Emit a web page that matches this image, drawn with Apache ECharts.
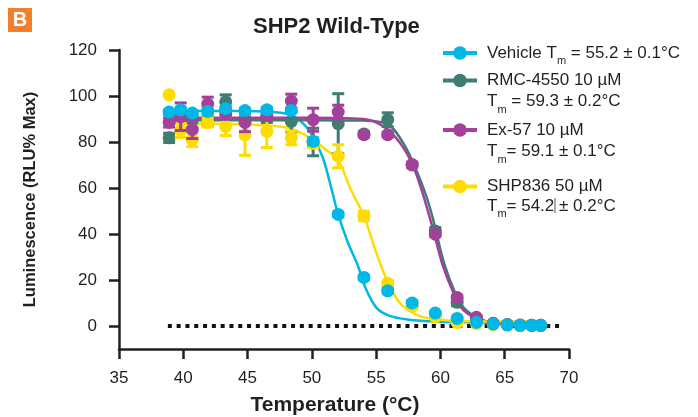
<!DOCTYPE html>
<html>
<head>
<meta charset="utf-8">
<script src="https://cdn.jsdelivr.net/npm/echarts@6/dist/echarts.min.js"></script>
<style>
html,body{margin:0;padding:0;background:#fff;}
#chart{width:698px;height:417px;}
</style>
</head>
<body>
<div id="chart"></div>
<script>
// ---- data ----
var temps = [38.9, 39.8, 40.7, 41.9, 43.3, 44.8, 46.5, 48.4, 50.1, 52.05, 54.05, 55.9, 57.8, 59.6, 61.3, 62.8, 64.1, 65.2, 66.2, 67.1, 67.8];

var vehicleVals = [93, 94, 92.6, 93.3, 94.5, 93.7, 94, 93.7, 80.3, 48.5, 21.1, 15.3, 10, 5.6, 3.3, 1.6, 0.9, 0.5, 0.3, 0.3, 0.3];
var vehicleErr  = [1, 1, 1, 1, 1, 1, 1, 1, 1.5, 1, 1, 1, 1, 0.5, 0.5, 0, 0, 0, 0, 0, 0];

var rmcVals = [81.8, 91, 90.4, 89, 97.5, 90, 90.5, 89, 80, 88, 83.5, 89.7, 70, 41.3, 10.3, 3, 1, 0.5, 0.3, 0.3, 0.3];
var rmcErr  = [2, 2, 2, 2, 3, 2, 2, 4.5, 6, 13, 1, 3, 1, 1.5, 1.5, 0.5, 0, 0, 0, 0, 0];

var ex57Vals = [88.5, 91, 85.5, 96.5, 92, 88.5, 91.5, 97.8, 89.7, 93, 83.2, 83.2, 70.2, 39.9, 12.4, 3.8, 1.2, 0.6, 0.4, 0.3, 0.3];
var ex57Err  = [2, 6, 4, 3, 2, 4, 2, 3, 5, 3, 1, 1, 1, 1, 1, 0.5, 0, 0, 0, 0, 0];

var shp836Vals = [100.5, 85, 81, 88.5, 86.8, 83.2, 84.6, 81.8, 79.5, 73.8, 47.8, 18.6, 8.5, 4, 1.5, 1, 0.6, 0.4, 0.3, 0.3, 0.3];
var shp836Err  = [0, 3, 3, 2, 4, 9, 7, 3, 2, 5, 2, 1, 1, 0.5, 0.5, 0, 0, 0, 0, 0, 0];

// fitted curves
var vehicleCurveT = [38.9, 44, 47, 48.5, 49.5, 50.2, 50.9, 51.6, 52.05, 52.8, 53.6, 54.1, 55, 56, 57.6, 59.4, 62, 65, 67.8];
var vehicleCurveV = [93.5, 93.5, 93, 91.5, 87, 81, 72.4, 58, 48.5, 36.3, 26, 17.5, 8.1, 4.5, 2.7, 2.0, 1.6, 1.5, 1.5];

var shp836CurveT = [38.9, 44, 47, 48.3, 49.3, 50.2, 50.9, 52.05, 52.9, 53.5, 54.05, 55, 55.8, 56.8, 58.1, 59.4, 61.3, 64, 67.8];
var shp836CurveV = [88, 87.8, 87, 86, 83.5, 80.5, 77.5, 72, 61, 54, 48, 32, 20.5, 10.3, 5, 3, 2.2, 2, 2];

var ex57CurveT = [38.9, 50, 54, 55.5, 56.8, 57.8, 58.6, 59.2, 59.5, 60.2, 61, 61.7, 62.8, 64.1, 66, 67.8];
var ex57CurveV = [90.5, 90.5, 90, 87, 80, 70.5, 58, 46.5, 40.5, 26, 14.6, 7.4, 3.2, 1, 0.6, 0.5];

var rmcCurveT = [38.9, 50, 54, 55.8, 57.1, 58.1, 58.9, 59.4, 59.65, 60.3, 61.1, 61.8, 62.9, 64.2, 66, 67.8];
var rmcCurveV = [89.5, 89.5, 89.3, 88, 79.6, 68, 56.5, 47, 41.3, 27, 15, 8, 3.5, 1.2, 0.6, 0.5];

var baselineT = [38.8, 69.4];
var baselineV = [0, 0];

var xTicks = [35, 40, 45, 50, 55, 60, 65, 70];
var yTicks = [0, 20, 40, 60, 80, 100, 120];

var seriesNames = ['Vehicle', 'RMC-4550 10 \u00b5M', 'Ex-57 10 \u00b5M', 'SHP836 50 \u00b5M'];
var legendLine1 = ['Vehicle T{sub|m} = 55.2 \u00b1 0.1\u00b0C', 'RMC-4550 10 \u00b5M', 'Ex-57 10 \u00b5M', 'SHP836 50 \u00b5M'];
var legendLine2 = ['', 'T{sub|m} = 59.3 \u00b1 0.2\u00b0C', 'T{sub|m}= 59.1 \u00b1 0.1\u00b0C', 'T{sub|m}= 54.2 \u00b1 0.2\u00b0C'];

// ---- styling ----
var FONT = '"Liberation Sans", Arial, Helvetica, sans-serif';
var TXT = '#231f20';
var colors = ['#00B8E6', '#3F7C72', '#A3419A', '#FFDC00'];

function zip(a, b) { return a.map(function (v, i) { return [v, b[i]]; }); }
function zip3(a, b, c) { return a.map(function (v, i) { return [v, b[i], c[i]]; }); }

function errRender(params, api) {
  var x = api.value(0), y = api.value(1), e = api.value(2);
  if (!e) return null;
  var top = api.coord([x, y + e]), bot = api.coord([x, y - e]);
  var cw = 6;
  var style = { stroke: api.visual('color'), lineWidth: 3 };
  return {
    type: 'group',
    children: [
      { type: 'line', shape: { x1: top[0], y1: top[1], x2: bot[0], y2: bot[1] }, style: style },
      { type: 'line', shape: { x1: top[0] - cw, y1: top[1], x2: top[0] + cw, y2: top[1] }, style: style },
      { type: 'line', shape: { x1: bot[0] - cw, y1: bot[1], x2: bot[0] + cw, y2: bot[1] }, style: style }
    ]
  };
}

var curves = [
  zip(vehicleCurveT, vehicleCurveV),
  zip(rmcCurveT, rmcCurveV),
  zip(ex57CurveT, ex57CurveV),
  zip(shp836CurveT, shp836CurveV)
];
var points = [
  zip3(temps, vehicleVals, vehicleErr),
  zip3(temps, rmcVals, rmcErr),
  zip3(temps, ex57Vals, ex57Err),
  zip3(temps, shp836Vals, shp836Err)
];
// drawing order bottom->top: RMC, SHP836, Ex-57, Vehicle
var zOrder = [8, 2, 6, 4];

var series = [];
[0, 1, 2, 3].forEach(function (i) {
  series.push({
    name: seriesNames[i], type: 'line', data: curves[i], smooth: 0.35,
    symbol: 'circle', showSymbol: false, symbolSize: 13,
    lineStyle: { color: colors[i], width: 2.5 }, itemStyle: { color: colors[i] },
    z: 1 + i * 0.1, silent: true
  });
});
series.push({
  name: 'baseline', type: 'line', data: zip(baselineT, baselineV), symbol: 'none',
  lineStyle: { color: '#111', width: 4, type: [4, 4.8] }, z: 1, silent: true
});
[0, 1, 2, 3].forEach(function (i) {
  series.push({
    name: seriesNames[i] + ' err', type: 'custom', renderItem: errRender, data: points[i],
    encode: { x: 0, y: 1 }, itemStyle: { color: colors[i] }, z: zOrder[i], silent: true
  });
  series.push({
    name: seriesNames[i] + ' pts', type: 'scatter', data: points[i].map(function (p) { return [p[0], p[1]]; }),
    symbol: 'circle', symbolSize: 13, itemStyle: { color: colors[i], opacity: 1 },
    z: zOrder[i] + 1, silent: true
  });
});

var richSub = { sub: { fontSize: 11, fontFamily: FONT, color: TXT, padding: [16, 0, 0, 0] } };
var rowTop = [44.5, 72, 121.5, 178];
var legends = [0, 1, 2, 3].map(function (i) {
  return {
    data: [seriesNames[i]], left: 441, top: rowTop[i], orient: 'vertical', padding: 0,
    itemWidth: 34, itemHeight: 17, itemGap: 0, selectedMode: false,
    lineStyle: { width: 4 },
    formatter: function () { return legendLine1[i]; },
    textStyle: { fontSize: 17, fontFamily: FONT, color: TXT, padding: [0, 0, 0, 5], rich: richSub }
  };
});

var line2Y = [0, 101.5, 151.5, 206];
var graphics = [
  { type: 'rect', left: 8, top: 8, shape: { width: 24, height: 24 }, style: { fill: '#F2802A' } },
  { type: 'text', x: 20, y: 20.5, style: { text: 'B', font: 'bold 20px ' + FONT, fill: '#fff', textAlign: 'center', textVerticalAlign: 'middle' } }
];
[1, 2, 3].forEach(function (i) {
  graphics.push({
    type: 'text', x: 487, y: line2Y[i],
    style: { text: legendLine2[i], fontSize: 17, fontFamily: FONT, fill: TXT, textVerticalAlign: 'middle', rich: richSub }
  });
});
graphics.push({ type: 'line', shape: { x1: 555, y1: 198, x2: 555, y2: 213 }, style: { stroke: '#555', lineWidth: 1 } });

var option = {
  animation: false,
  backgroundColor: '#fff',
  title: {
    text: 'SHP2 Wild-Type', left: 248, top: 11,
    textStyle: { fontSize: 22, fontWeight: 'bold', fontFamily: FONT, color: TXT }
  },
  legend: legends,
  graphic: graphics,
  grid: { left: 119, top: 50, width: 450, height: 299, containLabel: false, outerBoundsMode: 'none' },
  xAxis: {
    type: 'value', min: 35, max: 70, interval: 5,
    name: 'Temperature (\u00b0C)', nameLocation: 'middle', nameGap: 46,
    nameTextStyle: { fontSize: 21, fontWeight: 'bold', fontFamily: FONT, color: TXT, padding: [0, 18, 0, 0] },
    axisLine: { onZero: false, lineStyle: { color: '#231f20', width: 2.5 } },
    axisTick: { length: 10, lineStyle: { color: '#231f20', width: 2.5 } },
    axisLabel: { fontSize: 17, fontFamily: FONT, color: TXT, margin: 21, customValues: xTicks },
    splitLine: { show: false }
  },
  yAxis: {
    type: 'value', min: -10, max: 120,
    name: 'Luminescence (RLU% Max)', nameLocation: 'middle', nameGap: 80, nameRotate: 90,
    nameTextStyle: { fontSize: 16.5, fontWeight: 'bold', fontFamily: FONT, color: TXT },
    axisLine: { onZero: false, lineStyle: { color: '#231f20', width: 2.5 } },
    axisTick: { length: 10, lineStyle: { color: '#231f20', width: 2.5 }, customValues: yTicks },
    axisLabel: { fontSize: 17, fontFamily: FONT, color: TXT, margin: 22, customValues: yTicks },
    splitLine: { show: false }
  },
  series: series
};

var chart = echarts.init(document.getElementById('chart'), null, { renderer: 'canvas' });
chart.setOption(option);
</script>
</body>
</html>
